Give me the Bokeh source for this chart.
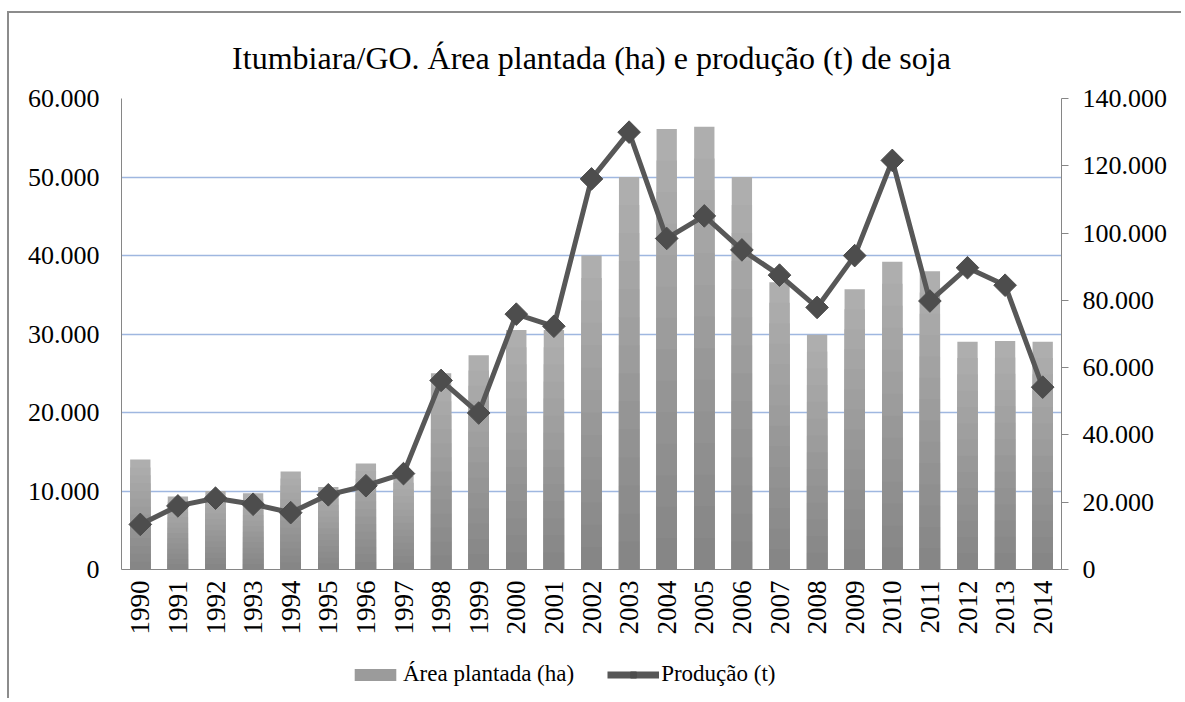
import math
from bokeh.plotting import figure
from bokeh.layouts import column
from bokeh.models import Range1d, LinearAxis, FixedTicker, Legend, LegendItem, FactorRange
from bokeh.embed import file_html
from bokeh.resources import INLINE

# ---- data ----
years = ["1990", "1991", "1992", "1993", "1994", "1995", "1996", "1997", "1998", "1999",
         "2000", "2001", "2002", "2003", "2004", "2005", "2006", "2007", "2008", "2009",
         "2010", "2011", "2012", "2013", "2014"]
area_ha = [14000, 9300, 10000, 9700, 12500, 10500, 13500, 11900, 25000, 27300,
           30500, 30500, 40000, 50000, 56100, 56400, 50000, 36600, 29900, 35700,
           39200, 38000, 29000, 29100, 29000]
producao_t = [13400, 18900, 21200, 19400, 16900, 22200, 24900, 28500, 56200, 46500,
              75900, 72300, 116100, 130000, 98400, 105100, 95000, 87500, 77900, 93300,
              121600, 79800, 89700, 84500, 54200]
left_ticks = [0, 10000, 20000, 30000, 40000, 50000, 60000]
left_labels = ["0", "10.000", "20.000", "30.000", "40.000", "50.000", "60.000"]
right_ticks = [0, 20000, 40000, 60000, 80000, 100000, 120000, 140000]
right_labels = ["0", "20.000", "40.000", "60.000", "80.000", "100.000", "120.000", "140.000"]
title_text = "Itumbiara/GO. Área plantada (ha) e produção (t) de soja"
legend_area = "Área plantada (ha)"
legend_prod = "Produção (t)"

FONT = "Liberation Serif"
AXIS_COLOR = "#868686"
FRAME = "2px solid #8c8c8c"

x_rng = FactorRange(*years)
y_rng = Range1d(0, 60000)

p = figure(x_range=x_rng, y_range=y_rng,
           width=1174, height=634, output_backend="svg", toolbar_location=None,
           min_border_left=112, min_border_right=122, min_border_top=85, min_border_bottom=78,
           styles={"border-top": FRAME, "border-left": FRAME,
                   "margin-top": "11px", "margin-left": "7px"})
p.extra_y_ranges = {"prod": Range1d(0, 140000)}
p.outline_line_color = None
p.background_fill_color = "white"
p.border_fill_color = "white"

p.title.text = title_text
p.title.align = "center"
p.title.text_font = FONT
p.title.text_font_size = "32px"
p.title.text_font_style = "normal"
p.title.text_color = "black"
p.title.standoff = 45

# grid
p.xgrid.visible = False
p.ygrid.ticker = FixedTicker(ticks=left_ticks)
p.ygrid.grid_line_color = "#9fb7e0"
p.ygrid.grid_line_width = 1.6

# left axis
ya = p.yaxis[0]
ya.ticker = FixedTicker(ticks=left_ticks)
ya.major_label_overrides = {t: l for t, l in zip(left_ticks, left_labels)}
ya.major_tick_out = 0
ya.major_tick_in = 0
ya.minor_tick_out = 0
ya.minor_tick_in = 0
ya.major_label_standoff = 22
ya.axis_line_color = AXIS_COLOR
ya.major_label_text_font = FONT
ya.major_label_text_font_size = "26px"
ya.major_label_text_color = "black"

# right axis
ra = LinearAxis(y_range_name="prod", ticker=FixedTicker(ticks=right_ticks))
ra.major_label_overrides = {t: l for t, l in zip(right_ticks, right_labels)}
ra.major_tick_out = 7
ra.major_tick_in = 0
ra.minor_tick_out = 0
ra.minor_tick_in = 0
ra.major_tick_line_color = AXIS_COLOR
ra.major_label_standoff = 14
ra.axis_line_color = AXIS_COLOR
ra.major_label_text_font = FONT
ra.major_label_text_font_size = "26px"
ra.major_label_text_color = "black"
p.add_layout(ra, "right")

# x axis
xa = p.xaxis[0]
xa.major_label_orientation = math.pi / 2
xa.major_tick_out = 0
xa.major_tick_in = 0
xa.major_label_standoff = 11
xa.axis_line_color = AXIS_COLOR
xa.major_label_text_font = FONT
xa.major_label_text_font_size = "27px"
xa.major_label_text_color = "black"

# gradient bars (layered, light top -> dark bottom)
N = 14
c0 = (0xAE, 0xAE, 0xAE)
c1 = (0x86, 0x86, 0x86)
for i in range(N):
    f = 1 - i / N
    t = i / (N - 1)
    col = "#%02x%02x%02x" % tuple(int(round(a + (b - a) * t)) for a, b in zip(c0, c1))
    tops = [v * f for v in area_ha]
    p.vbar(x=years, top=tops, width=0.54, fill_color=col, line_color=None)

# production line
p.line(x=years, y=producao_t, y_range_name="prod", line_color="#575757", line_width=5)
p.scatter(x=years, y=producao_t, y_range_name="prod", marker="square", angle=math.pi / 4,
          size=16, fill_color="#4d4d4d", line_color="#4d4d4d")

# ---- legend strip (separate figure below, so the legend is not clipped) ----
lg = figure(width=1174, height=53, output_backend="svg", toolbar_location=None,
            x_range=x_rng, y_range=y_rng,
            min_border_left=0, min_border_right=0, min_border_top=0, min_border_bottom=0,
            styles={"border-left": FRAME, "margin-left": "7px"})
lg.axis.visible = False
lg.grid.visible = False
lg.outline_line_color = None
lg.border_fill_color = "white"
lg.background_fill_color = "white"
# hidden proxies (same data, not shown) that only supply the legend swatches
bar_proxy = lg.vbar(x=years, top=area_ha, width=0.54, fill_color="#9b9b9b", line_color=None,
                    visible=False)
line_proxy = lg.line(x=years, y=area_ha, line_color="#575757", line_width=7, visible=False)
mark_proxy = lg.scatter(x=years, y=area_ha, marker="square", angle=math.pi / 4, size=11,
                        fill_color="#4d4d4d", line_color="#4d4d4d", visible=False)
legend = Legend(items=[LegendItem(label=legend_area, renderers=[bar_proxy]),
                       LegendItem(label=legend_prod, renderers=[line_proxy, mark_proxy])],
                orientation="horizontal", location=(228, 11),
                label_text_font=FONT, label_text_font_size="23px", label_text_color="black",
                glyph_width=52, glyph_height=15, label_standoff=2, spacing=33,
                inactive_fill_alpha=0,
                padding=0, margin=0, border_line_color=None, background_fill_alpha=0)
lg.add_layout(legend, "center")

layout = column(p, lg, spacing=0)
open("out.html", "w").write(file_html(layout, INLINE))
